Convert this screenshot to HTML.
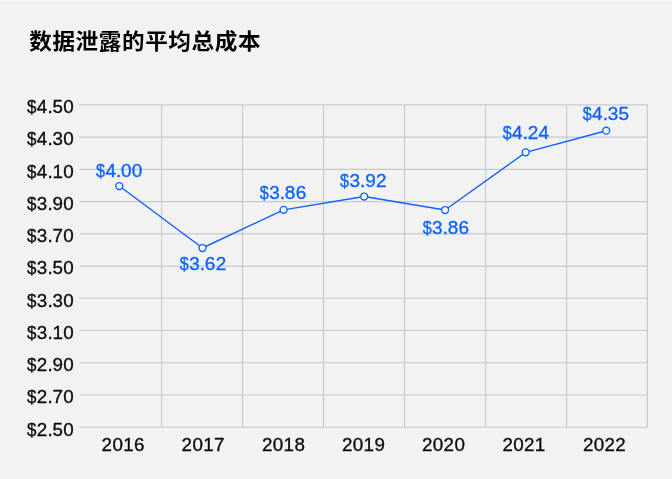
<!DOCTYPE html>
<html lang="zh-CN">
<head>
<meta charset="utf-8">
<title>数据泄露的平均总成本</title>
<style>
html,body{margin:0;padding:0;background:#f2f2f2;}
body{width:672px;height:479px;overflow:hidden;}
svg{display:block;}
.t{font-family:"Liberation Sans","Noto Sans CJK SC",sans-serif;font-weight:700;font-size:22.6px;letter-spacing:0.6px;fill:#000;}
.a{font-family:"Liberation Sans",sans-serif;font-size:17.5px;fill:#0a0a0a;stroke:#0a0a0a;stroke-width:0.3;}
.d{font-family:"Liberation Sans",sans-serif;font-size:17.5px;fill:#0f62fe;stroke:#0f62fe;stroke-width:0.32;}
</style>
</head>
<body>
<svg width="672" height="479" viewBox="0 0 672 479">
<rect x="0" y="0" width="672" height="479" fill="#f2f2f2"/>
<rect x="0" y="0" width="672" height="1" fill="#f6f6f6"/>
<text class="t" x="29.2" y="0" transform="translate(0,49.2) scale(1,0.95)">数据泄露的平均总成本</text>
<g stroke="#c3c9cf" stroke-width="1.05" fill="none">
<line x1="79.5" y1="104.90" x2="647.8" y2="104.90" stroke-width="1.9" stroke="#d2d6db"/>
<line x1="79.5" y1="137.14" x2="647.8" y2="137.14"/>
<line x1="79.5" y1="169.38" x2="647.8" y2="169.38"/>
<line x1="79.5" y1="201.62" x2="647.8" y2="201.62"/>
<line x1="79.5" y1="233.86" x2="647.8" y2="233.86"/>
<line x1="79.5" y1="266.10" x2="647.8" y2="266.10"/>
<line x1="79.5" y1="298.34" x2="647.8" y2="298.34"/>
<line x1="79.5" y1="330.58" x2="647.8" y2="330.58"/>
<line x1="79.5" y1="362.82" x2="647.8" y2="362.82"/>
<line x1="79.5" y1="395.06" x2="647.8" y2="395.06"/>
<line x1="79.5" y1="427.30" x2="647.8" y2="427.30"/>
<line x1="161.60" y1="104.9" x2="161.60" y2="427.3"/>
<line x1="242.50" y1="104.9" x2="242.50" y2="427.3"/>
<line x1="323.55" y1="104.9" x2="323.55" y2="427.3"/>
<line x1="404.50" y1="104.9" x2="404.50" y2="427.3"/>
<line x1="485.60" y1="104.9" x2="485.60" y2="427.3"/>
<line x1="566.60" y1="104.9" x2="566.60" y2="427.3"/>
<line x1="647.3" y1="104.9" x2="647.3" y2="427.3" stroke-width="1.15"/>
</g>
<text class="a" transform="translate(27.00,113.10) scale(0.965,1)">$</text>
<text class="a" transform="translate(36.87,113.10) scale(1.075,1)" x="0.00 9.83 14.56 24.60">4.50</text>
<text class="a" transform="translate(27.00,145.34) scale(0.965,1)">$</text>
<text class="a" transform="translate(36.87,145.34) scale(1.075,1)" x="0.00 9.83 14.56 24.60">4.30</text>
<text class="a" transform="translate(27.00,177.58) scale(0.965,1)">$</text>
<text class="a" transform="translate(36.87,177.58) scale(1.075,1)" x="0.00 9.83 14.56 24.60">4.10</text>
<text class="a" transform="translate(27.00,209.82) scale(0.965,1)">$</text>
<text class="a" transform="translate(36.87,209.82) scale(1.075,1)" x="0.00 9.83 14.56 24.60">3.90</text>
<text class="a" transform="translate(27.00,242.06) scale(0.965,1)">$</text>
<text class="a" transform="translate(36.87,242.06) scale(1.075,1)" x="0.00 9.83 14.56 24.60">3.70</text>
<text class="a" transform="translate(27.00,274.30) scale(0.965,1)">$</text>
<text class="a" transform="translate(36.87,274.30) scale(1.075,1)" x="0.00 9.83 14.56 24.60">3.50</text>
<text class="a" transform="translate(27.00,306.54) scale(0.965,1)">$</text>
<text class="a" transform="translate(36.87,306.54) scale(1.075,1)" x="0.00 9.83 14.56 24.60">3.30</text>
<text class="a" transform="translate(27.00,338.78) scale(0.965,1)">$</text>
<text class="a" transform="translate(36.87,338.78) scale(1.075,1)" x="0.00 9.83 14.56 24.60">3.10</text>
<text class="a" transform="translate(27.00,371.02) scale(0.965,1)">$</text>
<text class="a" transform="translate(36.87,371.02) scale(1.075,1)" x="0.00 9.83 14.56 24.60">2.90</text>
<text class="a" transform="translate(27.00,403.26) scale(0.965,1)">$</text>
<text class="a" transform="translate(36.87,403.26) scale(1.075,1)" x="0.00 9.83 14.56 24.60">2.70</text>
<text class="a" transform="translate(27.00,435.50) scale(0.965,1)">$</text>
<text class="a" transform="translate(36.87,435.50) scale(1.075,1)" x="0.00 9.83 14.56 24.60">2.50</text>
<text class="a" transform="translate(101.62,451.20) scale(1.075,1)" x="0.00 10.05 20.09 30.14">2016</text>
<text class="a" transform="translate(181.62,451.20) scale(1.075,1)" x="0.00 10.05 20.09 30.14">2017</text>
<text class="a" transform="translate(262.02,451.20) scale(1.075,1)" x="0.00 10.05 20.09 30.14">2018</text>
<text class="a" transform="translate(342.02,451.20) scale(1.075,1)" x="0.00 10.05 20.09 30.14">2019</text>
<text class="a" transform="translate(422.02,451.20) scale(1.075,1)" x="0.00 10.05 20.09 30.14">2020</text>
<text class="a" transform="translate(502.42,451.20) scale(1.075,1)" x="0.00 10.05 20.09 30.14">2021</text>
<text class="a" transform="translate(582.92,451.20) scale(1.075,1)" x="0.00 10.05 20.09 30.14">2022</text>
<polyline fill="none" stroke="#0f62fe" stroke-width="1.4" stroke-linejoin="round" points="119.30,186.00 202.50,248.00 283.60,209.85 364.20,196.50 445.05,210.00 525.70,152.35 606.20,130.70"/>
<circle cx="119.30" cy="186.00" r="3.45" fill="#ffffff" stroke="#0f62fe" stroke-width="1.35"/>
<circle cx="202.50" cy="248.00" r="3.45" fill="#ffffff" stroke="#0f62fe" stroke-width="1.35"/>
<circle cx="283.60" cy="209.85" r="3.45" fill="#ffffff" stroke="#0f62fe" stroke-width="1.35"/>
<circle cx="364.20" cy="196.50" r="3.45" fill="#ffffff" stroke="#0f62fe" stroke-width="1.35"/>
<circle cx="445.05" cy="210.00" r="3.45" fill="#ffffff" stroke="#0f62fe" stroke-width="1.35"/>
<circle cx="525.70" cy="152.35" r="3.45" fill="#ffffff" stroke="#0f62fe" stroke-width="1.35"/>
<circle cx="606.20" cy="130.70" r="3.45" fill="#ffffff" stroke="#0f62fe" stroke-width="1.35"/>
<text class="d" transform="translate(96.00,177.00) scale(0.925,1)">$</text>
<text class="d" transform="translate(105.42,177.00) scale(1.085,1)" x="0.00 9.76 14.42 24.38">4.00</text>
<text class="d" transform="translate(179.80,270.00) scale(0.925,1)">$</text>
<text class="d" transform="translate(189.22,270.00) scale(1.085,1)" x="0.00 9.76 14.42 24.38">3.62</text>
<text class="d" transform="translate(259.80,199.00) scale(0.925,1)">$</text>
<text class="d" transform="translate(269.22,199.00) scale(1.085,1)" x="0.00 9.76 14.42 24.38">3.86</text>
<text class="d" transform="translate(340.10,187.00) scale(0.925,1)">$</text>
<text class="d" transform="translate(349.52,187.00) scale(1.085,1)" x="0.00 9.76 14.42 24.38">3.92</text>
<text class="d" transform="translate(422.70,233.80) scale(0.925,1)">$</text>
<text class="d" transform="translate(432.12,233.80) scale(1.085,1)" x="0.00 9.76 14.42 24.38">3.86</text>
<text class="d" transform="translate(502.70,139.00) scale(0.925,1)">$</text>
<text class="d" transform="translate(512.12,139.00) scale(1.085,1)" x="0.00 9.76 14.42 24.38">4.24</text>
<text class="d" transform="translate(582.70,120.00) scale(0.925,1)">$</text>
<text class="d" transform="translate(592.12,120.00) scale(1.085,1)" x="0.00 9.76 14.42 24.38">4.35</text>
</svg>
</body>
</html>
